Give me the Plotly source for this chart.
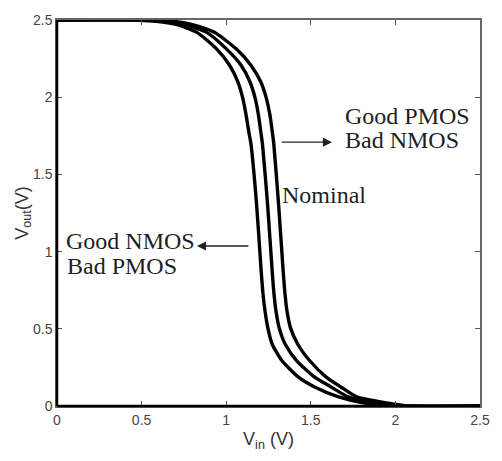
import plotly.graph_objects as go

# CMOS inverter voltage transfer characteristics for three process corners
vin_good_nmos = [0.0, 0.45, 0.60, 0.71, 0.827, 0.943, 1.02, 1.069, 1.098, 1.117, 1.133,
                 1.146, 1.18, 1.205, 1.218, 1.23, 1.246, 1.272, 1.33, 1.427, 1.523, 1.66,
                 1.81, 2.00, 2.50]
vout_good_nmos = [2.50, 2.50, 2.49, 2.47, 2.42, 2.313, 2.207, 2.10, 1.994, 1.888, 1.78,
                  1.70, 1.30, 0.90, 0.72, 0.61, 0.506, 0.40, 0.293, 0.187, 0.123, 0.06,
                  0.02, 0.0, 0.0]

vin_nominal = [0.0, 0.50, 0.65, 0.76, 0.885, 1.001, 1.088, 1.14, 1.171, 1.19, 1.204,
               1.214, 1.245, 1.27, 1.283, 1.295, 1.313, 1.349, 1.417, 1.523, 1.62, 1.72,
               1.88, 2.04, 2.50]
vout_nominal = [2.50, 2.50, 2.49, 2.47, 2.42, 2.313, 2.207, 2.10, 1.994, 1.888, 1.78,
                1.70, 1.30, 0.90, 0.72, 0.61, 0.506, 0.40, 0.293, 0.187, 0.123, 0.06,
                0.02, 0.0, 0.0]

vin_good_pmos = [0.0, 0.55, 0.70, 0.80, 0.93, 1.059, 1.146, 1.204, 1.237, 1.258, 1.272,
                 1.281, 1.31, 1.335, 1.348, 1.36, 1.38, 1.423, 1.494, 1.591, 1.678, 1.77,
                 1.95, 2.08, 2.50]
vout_good_pmos = [2.50, 2.50, 2.49, 2.47, 2.42, 2.313, 2.207, 2.10, 1.994, 1.888, 1.78,
                  1.70, 1.30, 0.90, 0.72, 0.61, 0.506, 0.40, 0.293, 0.187, 0.123, 0.06,
                  0.02, 0.0, 0.0]

tick_vals = [0, 0.5, 1, 1.5, 2, 2.5]
tick_text = ["0", "0.5", "1", "1.5", "2", "2.5"]

fig = go.Figure()
for xs, ys, name in [(vin_good_nmos, vout_good_nmos, "Good NMOS / Bad PMOS"),
                     (vin_nominal, vout_nominal, "Nominal"),
                     (vin_good_pmos, vout_good_pmos, "Good PMOS / Bad NMOS")]:
    fig.add_trace(go.Scatter(x=xs, y=ys, mode="lines", name=name,
                             line=dict(color="black", width=3.4, shape="spline", smoothing=0.6),
                             showlegend=False))

serif = dict(family="Liberation Serif, Times New Roman, serif", size=24, color="#1e1e1e")

labels = [
    ("Good PMOS", 1.692, 1.88),
    ("Bad NMOS", 1.692, 1.72),
    ("Nominal", 1.32, 1.364),
    ("Good NMOS", 0.04, 1.07),
    ("Bad PMOS", 0.046, 0.905),
]
for text, x, y in labels:
    fig.add_annotation(x=x, y=y, text=text, showarrow=False, xanchor="left",
                       yanchor="middle", font=serif)

# arrows pointing from the nominal curve towards the shifted corners
fig.add_annotation(x=1.625, y=1.709, ax=1.32, ay=1.709, xref="x", yref="y",
                   axref="x", ayref="y", text="", showarrow=True,
                   arrowhead=2, arrowsize=1.3, arrowwidth=1.4, arrowcolor="#222")
fig.add_annotation(x=0.827, y=1.036, ax=1.14, ay=1.036, xref="x", yref="y",
                   axref="x", ayref="y", text="", showarrow=True,
                   arrowhead=2, arrowsize=1.3, arrowwidth=1.4, arrowcolor="#222")

# heavier left and bottom axis lines
fig.add_shape(type="line", xref="x domain", yref="y domain", x0=0, x1=0, y0=0, y1=1,
              line=dict(color="black", width=2.5))
fig.add_shape(type="line", xref="x domain", yref="y domain", x0=0, x1=1, y0=0, y1=0,
              line=dict(color="black", width=2.5))

tick_font = dict(family="Liberation Sans, Arial, sans-serif", size=14, color="#444")
title_font = dict(family="Liberation Sans, Arial, sans-serif", size=18, color="#333")

fig.update_xaxes(range=[0, 2.5], tickvals=tick_vals, ticktext=tick_text,
                 ticks="inside", ticklen=5, tickcolor="#555", tickwidth=1,
                 showline=True, linecolor="#666", linewidth=1.5, mirror="ticks",
                 showgrid=False, zeroline=False, tickfont=tick_font,
                 title=dict(text="V<sub>in</sub> (V)", font=title_font, standoff=6))
fig.update_yaxes(range=[0, 2.5], tickvals=tick_vals, ticktext=tick_text,
                 ticks="inside", ticklen=5, tickcolor="#555", tickwidth=1,
                 showline=True, linecolor="#666", linewidth=1.5, mirror="ticks",
                 showgrid=False, zeroline=False, tickfont=tick_font,
                 ticklabelstandoff=0,
                 title=dict(text="V<sub>out</sub>(V)", font=title_font, standoff=0))

fig.update_layout(width=502, height=461, paper_bgcolor="white", plot_bgcolor="white",
                  margin=dict(l=57, r=14, t=14, b=55))

fig.write_html("out.html")
